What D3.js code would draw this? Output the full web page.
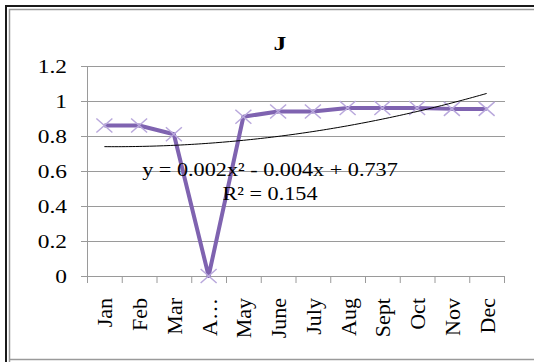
<!DOCTYPE html>
<html>
<head>
<meta charset="utf-8">
<script src="https://cdn.jsdelivr.net/npm/d3@7"></script>
<style>
  html, body { margin: 0; padding: 0; background: #fff; }
  svg { display: block; }
  text { font-family: "Liberation Serif", "Times New Roman", serif; fill: #000; }
</style>
</head>
<body>
<svg id="chart" width="534" height="362"></svg>
<script>
// Monthly values for station J
const categories = ["Jan", "Feb", "Mar", "A\u2026", "May", "June", "July", "Aug", "Sept", "Oct", "Nov", "Dec"];
const values = [0.86, 0.86, 0.81, 0.0, 0.91, 0.94, 0.94, 0.96, 0.96, 0.96, 0.955, 0.955];
const yTicks = [0, 0.2, 0.4, 0.6, 0.8, 1, 1.2];
const yTickLabels = ["0", "0.2", "0.4", "0.6", "0.8", "1", "1.2"];
const chartTitle = "J";
const equationText = "y = 0.002x\u00B2 - 0.004x + 0.737";
const rSquaredText = "R\u00B2 = 0.154";

const svg = d3.select("#chart");

// Outer frame: dark outline with a grey inner line
svg.append("path")
  .attr("d", "M6,362 L6,6 L534,6")
  .attr("fill", "none").attr("stroke", "#1a1a1a").attr("stroke-width", 2);
svg.append("path")
  .attr("d", "M9.5,362 L9.5,9.5 L534,9.5 M9.5,359.5 L534,359.5")
  .attr("fill", "none").attr("stroke", "#9a9a9a").attr("stroke-width", 1.5);

const plot = { left: 87, right: 504, top: 66, bottom: 276 };
const gridLeft = 81, gridRight = 505;

const x = d3.scaleBand().domain(categories).range([plot.left, plot.right]);
const y = d3.scaleLinear().domain([0, 1.2]).range([plot.bottom, plot.top]);
const cx = c => x(c) + x.bandwidth() / 2;

// Horizontal gridlines
const yAxis = d3.axisLeft(y).tickValues(yTicks).tickFormat(() => "")
  .tickSize(-(gridRight - gridLeft));
const gy = svg.append("g").attr("transform", `translate(${gridRight},0)`).call(yAxis);
gy.select(".domain").remove();
gy.selectAll(".tick line").attr("stroke", "#9a9a9a")
  .attr("x1", 0).attr("x2", -(gridRight - gridLeft));
gy.selectAll(".tick text").remove();

// Value labels, slightly widened serif
svg.append("g").selectAll("g").data(yTicks).join("g")
  .attr("transform", d => `translate(67,${y(d) + 6.5}) scale(1.3,1)`)
  .append("text")
  .attr("text-anchor", "end")
  .style("font-size", "18px")
  .text((d, i) => yTickLabels[i]);

// Vertical axis line
svg.append("line")
  .attr("x1", plot.left + 0.5).attr("x2", plot.left + 0.5)
  .attr("y1", plot.top).attr("y2", plot.bottom + 7)
  .attr("stroke", "#9a9a9a");

// Category axis with tick marks between categories
const gx = svg.append("g").attr("transform", `translate(0,${plot.bottom})`);
gx.append("line").attr("x1", gridLeft).attr("x2", gridRight)
  .attr("y1", 0.5).attr("y2", 0.5).attr("stroke", "#9a9a9a");
const bounds = categories.map(c => x(c)).concat([plot.right]);
gx.selectAll("line.tk").data(bounds).join("line").attr("class", "tk")
  .attr("x1", d => d + 0.5).attr("x2", d => d + 0.5)
  .attr("y1", 0).attr("y2", 7).attr("stroke", "#9a9a9a");
gx.selectAll("text").data(categories).join("text")
  .attr("transform", d => `translate(${cx(d) + 8},22) rotate(-90)`)
  .attr("text-anchor", "end")
  .style("font-size", "22px")
  .text(d => d);

// Quadratic least-squares trendline over category positions 1..12
function quadFit(ys) {
  const s = [0, 0, 0, 0, 0], t = [0, 0, 0];
  ys.forEach((v, i) => {
    const xi = i + 1;
    for (let k = 0; k <= 4; k++) s[k] += Math.pow(xi, k);
    for (let k = 0; k <= 2; k++) t[k] += v * Math.pow(xi, k);
  });
  const A = [[s[0], s[1], s[2], t[0]], [s[1], s[2], s[3], t[1]], [s[2], s[3], s[4], t[2]]];
  for (let i = 0; i < 3; i++) {
    for (let j = i + 1; j < 3; j++) {
      const f = A[j][i] / A[i][i];
      for (let k = i; k < 4; k++) A[j][k] -= f * A[i][k];
    }
  }
  const c = [0, 0, 0];
  for (let i = 2; i >= 0; i--) {
    let sum = A[i][3];
    for (let k = i + 1; k < 3; k++) sum -= A[i][k] * c[k];
    c[i] = sum / A[i][i];
  }
  return xv => c[0] + c[1] * xv + c[2] * xv * xv;
}
const trend = quadFit(values);
const trendPts = d3.range(1, 12.001, 0.1).map(t => [
  cx(categories[0]) + (t - 1) * x.bandwidth(), y(trend(t))
]);

// Data line
svg.append("path")
  .datum(values)
  .attr("fill", "none").attr("stroke", "#7f63b0").attr("stroke-width", 4)
  .attr("stroke-linejoin", "round")
  .attr("d", d3.line().x((d, i) => cx(categories[i])).y(d => y(d)));

// Cross markers
const mk = svg.append("g");
values.forEach((v, i) => {
  const px = cx(categories[i]), py = y(v);
  mk.append("path")
    .attr("d", `M${px - 8},${py - 7} L${px + 8},${py + 7} M${px - 8},${py + 7} L${px + 8},${py - 7}`)
    .attr("stroke", "#b9a8dc").attr("stroke-width", 1.5).attr("fill", "none");
});

// Trendline
svg.append("path")
  .attr("fill", "none").attr("stroke", "#000").attr("stroke-width", 1)
  .attr("d", d3.line()(trendPts));

// Trendline equation and R²
svg.append("g").attr("transform", "translate(270,176) scale(1.17,1)")
  .append("text").attr("text-anchor", "middle")
  .style("font-size", "19px").text(equationText);
svg.append("g").attr("transform", "translate(270,200) scale(1.17,1)")
  .append("text").attr("text-anchor", "middle")
  .style("font-size", "19px").text(rSquaredText);

// Title
svg.append("g").attr("transform", "translate(280,50) scale(1.35,1)")
  .append("text").attr("text-anchor", "middle")
  .style("font-size", "19px").style("font-weight", "bold").text(chartTitle);
</script>
</body>
</html>
